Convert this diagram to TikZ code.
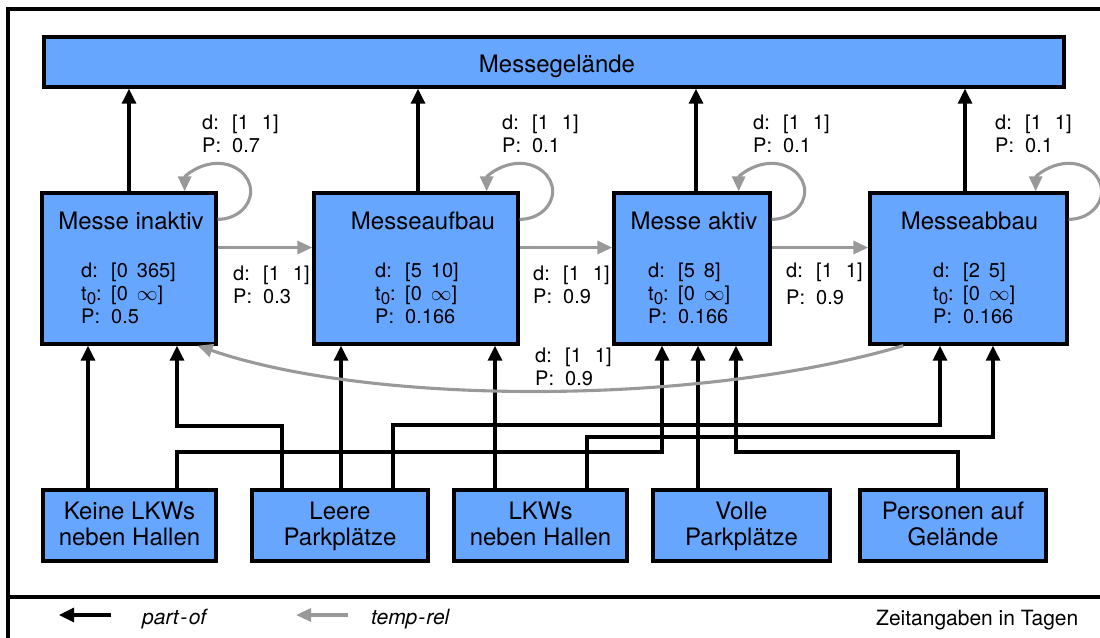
\documentclass[tikz,border=0pt]{standalone}
\usepackage{fontspec}
\setmainfont{TeX Gyre Heros}
\usetikzlibrary{arrows.meta,calc}
\definecolor{boxblue}{RGB}{102,166,255}
\definecolor{relgray}{RGB}{153,153,153}
\newcommand{\Lrow}[2]{\makebox[30pt][l]{#1}#2}
\newcommand{\Ltab}[1]{\begin{tabular}[t]{@{}l@{}}#1\end{tabular}}
\newcommand{\Tnull}{t\raisebox{-4pt}{\fontsize{17}{17}\selectfont 0}:}
\newcommand{\Gap}{\hspace{9pt}}
\newcommand{\Wgap}{\hspace{13pt}}
\newcommand{\Btxt}[2]{\raisebox{-2pt}[\height][\depth]{\begin{tabular}{@{}c@{}}#1\\#2\end{tabular}}}
\begin{document}
\begin{tikzpicture}[x=1pt,y=-1pt,
  box/.style={draw=black,line width=3.3pt,fill=boxblue,inner sep=0pt},
  partof/.style={draw=black,line width=3.1pt,-{Triangle[length=15pt,width=14pt]}},
  temprel/.style={draw=relgray,line width=3.1pt,-{Triangle[length=15pt,width=13pt]}},
  big/.style={font=\fontsize{24}{26}\selectfont},
  lbl/.style={font=\fontsize{20}{23}\selectfont,inner sep=0pt,anchor=base west},
  ttl/.style={font=\fontsize{24}{26}\selectfont,inner sep=0pt,anchor=base},
  leg/.style={font=\fontsize{21}{21}\selectfont,inner sep=0pt,anchor=base west},
]
\useasboundingbox (0,0) rectangle (1100,637);
% frame
\draw[line width=3.3pt] (1103,9) -- (8,9) -- (8,640);
\draw[line width=3.3pt] (8,597) -- (1103,597);

% top box
\node[box,minimum width=1020pt,minimum height=50pt] (top) at (554,62) {};
\node[ttl] (topt) at (557,72) {Messegel\"ande};

% state boxes
\node[box,minimum width=174pt,minimum height=151pt] (s1) at (129,268.5) {};
\node[box,minimum width=204pt,minimum height=151pt] (s2) at (416,268.5) {};
\node[box,minimum width=156pt,minimum height=151pt] (s3) at (692,268.5) {};
\node[box,minimum width=197pt,minimum height=151pt] (s4) at (968.5,268.5) {};

\node[ttl] (s1t) at (131,229) {Messe inaktiv};
\node[ttl] (s2t) at (423,229) {Messeaufbau};
\node[ttl] (s3t) at (694,229) {Messe aktiv};
\node[ttl] (s4t) at (969.5,229) {Messeabbau};

\node[lbl] (s1d) at (81,277) {\Ltab{\Lrow{d:}{[0\Gap 365]}\\ \Lrow{\Tnull}{[0\Gap$\infty$]}\\ \Lrow{P:}{0.5}}};
\node[lbl] (s2d) at (375,277) {\Ltab{\Lrow{d:}{[5\Gap 10]}\\ \Lrow{\Tnull}{[0\Gap$\infty$]}\\ \Lrow{P:}{0.166}}};
\node[lbl] (s3d) at (648,277) {\Ltab{\Lrow{d:}{[5\Gap 8]}\\ \Lrow{\Tnull}{[0\Gap$\infty$]}\\ \Lrow{P:}{0.166}}};
\node[lbl] (s4d) at (933,277) {\Ltab{\Lrow{d:}{[2\Gap 5]}\\ \Lrow{\Tnull}{[0\Gap$\infty$]}\\ \Lrow{P:}{0.166}}};

% bottom boxes
\node[box,big,minimum width=173pt,minimum height=71pt] (b1) at (129.5,525.5) {\Btxt{Keine LKWs}{neben Hallen}};
\node[box,big,minimum width=176pt,minimum height=71pt] (b2) at (340,525.5) {\Btxt{Leere}{Parkpl\"atze}};
\node[box,big,minimum width=173pt,minimum height=71pt] (b3) at (540.5,525.5) {\Btxt{LKWs}{neben Hallen}};
\node[box,big,minimum width=177pt,minimum height=71pt] (b4) at (741.5,525.5) {\Btxt{Volle}{Parkpl\"atze}};
\node[box,big,minimum width=186pt,minimum height=71pt] (b5) at (953,525.5) {\Btxt{Personen auf}{Gel\"ande}};

% part-of: states -> top
\draw[partof] (129,0 |- s1.north) -- (129,0 |- top.south);
\draw[partof] (418,0 |- s2.north) -- (418,0 |- top.south);
\draw[partof] (696,0 |- s3.north) -- (696,0 |- top.south);
\draw[partof] (965,0 |- s4.north) -- (965,0 |- top.south);

% part-of: bottom -> states
\draw[partof] (88,0 |- b1.north) -- (88,0 |- s1.south);
\draw[partof] (177,0 |- b1.north) -- (177,452) -| (662,0 |- s3.south);
\draw[partof] (282,0 |- b2.north) -- (282,426) -| (177,0 |- s1.south);
\draw[partof] (341,0 |- b2.north) -- (341,0 |- s2.south);
\draw[partof] (393,0 |- b2.north) -- (393,425) -| (940,0 |- s4.south);
\draw[partof] (495,0 |- b3.north) -- (495,0 |- s2.south);
\draw[partof] (587,0 |- b3.north) -- (587,437) -| (993,0 |- s4.south);
\draw[partof] (698,0 |- b4.north) -- (698,0 |- s3.south);
\draw[partof] (958,0 |- b5.north) -- (958,452) -| (736,0 |- s3.south);

% temp-rel: self loops
\draw[temprel] ([yshift=-28pt]s1.north east) arc[start angle=-90,end angle=180,x radius=33pt,y radius=28pt];
\draw[temprel] ([yshift=-28pt]s2.north east) arc[start angle=-90,end angle=180,x radius=33pt,y radius=28pt];
\draw[temprel] ([yshift=-28pt]s3.north east) arc[start angle=-90,end angle=180,x radius=33pt,y radius=28pt];
\draw[temprel] ([yshift=-28pt]s4.north east) arc[start angle=-90,end angle=180,x radius=33pt,y radius=28pt];

% temp-rel: transitions
\draw[temprel] ([yshift=21pt]s1.east) -- ([yshift=21pt]s2.west);
\draw[temprel] ([yshift=21pt]s2.east) -- ([yshift=21pt]s3.west);
\draw[temprel] ([yshift=21pt]s3.east) -- ([yshift=21pt]s4.west);
\draw[temprel] ([xshift=35pt]s4.south west) .. controls (700,406) and (373,406) .. ([xshift=-20pt]s1.south east);

% labels
\node[lbl] (l1) at (202,129) {\Ltab{\Lrow{d:}{[1\Wgap 1]}\\ \Lrow{P:}{0.7}}};
\node[lbl] (l2) at (502,129) {\Ltab{\Lrow{d:}{[1\Wgap 1]}\\ \Lrow{P:}{0.1}}};
\node[lbl] (l3) at (753,129) {\Ltab{\Lrow{d:}{[1\Wgap 1]}\\ \Lrow{P:}{0.1}}};
\node[lbl] (l4) at (995,129) {\Ltab{\Lrow{d:}{[1\Wgap 1]}\\ \Lrow{P:}{0.1}}};
\node[lbl] (t12) at (233,280) {\Ltab{\Lrow{d:}{[1\Wgap 1]}\\ \Lrow{P:}{0.3}}};
\node[lbl] (t23) at (533,280) {\Ltab{\Lrow{d:}{[1\Wgap 1]}\\ \Lrow{P:}{0.9}}};
\node[lbl] (t34) at (786,277) {\Ltab{\Lrow{d:}{[1\Wgap 1]}\\[4pt] \Lrow{P:}{0.9}}};
\node[lbl] (t41) at (535,362) {\Ltab{\Lrow{d:}{[1\Wgap 1]}\\ \Lrow{P:}{0.9}}};

% legend
\coordinate (lpa) at (111,615);
\coordinate (lpb) at (59,615);
\coordinate (lta) at (348,615);
\coordinate (ltb) at (296,615);
\draw[partof] (lpa) -- (lpb);
\draw[temprel] (lta) -- (ltb);
\node[leg,font=\fontsize{21}{21}\selectfont\itshape] (lp) at (142,624) {part\kern1.5pt-\kern1.5pt of};
\node[leg,font=\fontsize{21}{21}\selectfont\itshape] (lt) at (371,624) {temp\kern1pt-\kern1pt rel};
\node[leg] (lz) at (876,625) {Zeitangaben in Tagen};
\end{tikzpicture}
\end{document}
